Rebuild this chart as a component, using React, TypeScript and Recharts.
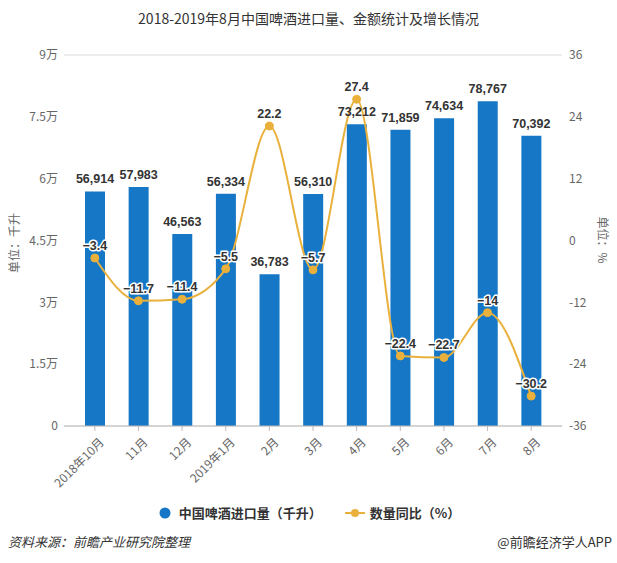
import React from "react";
import {
  ComposedChart,
  Bar,
  Line,
  XAxis,
  YAxis,
  CartesianGrid,
  LabelList,
  Legend,
} from "recharts";

const categories = ["2018年10月", "11月", "12月", "2019年1月", "2月", "3月", "4月", "5月", "6月", "7月", "8月"];
const importVolume = [56914, 57983, 46563, 56334, 36783, 56310, 73212, 71859, 74634, 78767, 70392];
const yoyGrowth = [-3.4, -11.7, -11.4, -5.5, 22.2, -5.7, 27.4, -22.4, -22.7, -14, -30.2];
const leftTicks = [0, 15000, 30000, 45000, 60000, 75000, 90000];
const rightTicks = [-36, -24, -12, 0, 12, 24, 36];

const title = "2018-2019年8月中国啤酒进口量、金额统计及增长情况";
const barName = "中国啤酒进口量（千升）";
const lineName = "数量同比（%）";
const leftUnit = "单位：千升";
const rightUnit = "单位：%";
const sourceText = "资料来源：前瞻产业研究院整理";
const brandText = "@前瞻经济学人APP";

const data = categories.map((c, i) => ({
  name: c,
  volume: importVolume[i],
  yoy: yoyGrowth[i],
}));

const BLUE = "#1677c6";
const GOLD = "#e9b13c";
const CJK = '"Microsoft YaHei", "Noto Sans CJK SC", sans-serif';
const NUM = '"Liberation Sans", Arial, sans-serif';

const fmtLeft = (v: number) => (v === 0 ? "0" : `${v / 10000}万`);
const fmtThousands = (v: number) => v.toLocaleString("en-US");

const BarLabel = (props: any) => {
  const { x, y, width, value } = props;
  return (
    <text
      x={x + width / 2}
      y={y - 8}
      textAnchor="middle"
      fontFamily={NUM}
      fontSize={12.5}
      fontWeight="bold"
      fill="#333"
    >
      {fmtThousands(value)}
    </text>
  );
};

const LineLabel = (props: any) => {
  const { x, y, value } = props;
  return (
    <text
      x={x}
      y={y - 8}
      textAnchor="middle"
      fontFamily={NUM}
      fontSize={12.5}
      fontWeight="bold"
      fill="#333"
      stroke="#fff"
      strokeWidth={3}
      paintOrder="stroke"
      strokeLinejoin="round"
    >
      {String(value).replace("-", "−")}
    </text>
  );
};

const XTick = (props: any) => {
  const { x, y, payload } = props;
  return (
    <g transform={`translate(${x + 4},${y + 4})`}>
      <text
        x={0}
        y={0}
        dy="0.71em"
        textAnchor="end"
        transform="rotate(-45)"
        fontFamily={CJK}
        fontSize={12}
        fill="#666"
      >
        {payload.value}
      </text>
    </g>
  );
};

const CustomLegend = () => (
  <div
    style={{
      display: "flex",
      justifyContent: "center",
      alignItems: "center",
      fontFamily: CJK,
      fontSize: 13,
      fontWeight: "bold",
      color: "#333",
      width: 617,
      paddingLeft: 2,
      boxSizing: "border-box",
    }}
  >
    <svg width={12} height={12} style={{ marginRight: 8 }}>
      <circle cx={6} cy={6} r={5.5} fill={BLUE} />
    </svg>
    <span>{barName}</span>
    <svg width={22} height={12} style={{ marginLeft: 22, marginRight: 4 }}>
      <line x1={1} y1={6} x2={21} y2={6} stroke={GOLD} strokeWidth={2} />
      <circle cx={11} cy={6} r={4} fill={GOLD} />
    </svg>
    <span>{lineName}</span>
  </div>
);

export default function App() {
  return (
    <div
      style={{
        position: "fixed",
        left: 0,
        top: 0,
        width: 617,
        height: 563,
        background: "#fff",
        overflow: "hidden",
      }}
    >
      <div
        style={{
          position: "absolute",
          top: 8,
          left: 0,
          width: 617,
          textAlign: "center",
          fontFamily: CJK,
          fontSize: 14,
          color: "#333",
        }}
      >
        {title}
      </div>
      <ComposedChart
        width={617}
        height={563}
        data={data}
        margin={{ top: 55, right: 8, left: 8, bottom: 58 }}
      >
        <CartesianGrid horizontal vertical={false} stroke="#dcdcdc" />
        <XAxis
          dataKey="name"
          interval={0}
          height={60}
          padding={{ left: 9, right: 9 }}
          axisLine={{ stroke: "#bbb" }}
          tickLine={{ stroke: "#bbb" }}
          tickSize={5}
          tick={<XTick />}
        />
        <YAxis
          yAxisId="left"
          orientation="left"
          width={56}
          domain={[0, 90000]}
          ticks={leftTicks}
          tickFormatter={fmtLeft}
          axisLine={false}
          tickLine={false}
          tickSize={4}
          tickMargin={2}
          tick={{ fill: "#666", fontSize: 12, fontFamily: CJK }}
          allowDataOverflow
        />
        <YAxis
          yAxisId="right"
          orientation="right"
          width={47}
          domain={[-36, 36]}
          ticks={rightTicks}
          axisLine={false}
          tickLine={false}
          tickSize={5}
          tickMargin={2}
          tick={{ fill: "#666", fontSize: 12, fontFamily: CJK }}
          allowDataOverflow
        />
        <Bar
          yAxisId="left"
          dataKey="volume"
          name={barName}
          fill={BLUE}
          barSize={20}
          isAnimationActive={false}
        >
          <LabelList dataKey="volume" content={<BarLabel />} />
        </Bar>
        <Line
          yAxisId="right"
          type="monotone"
          dataKey="yoy"
          name={lineName}
          stroke={GOLD}
          strokeWidth={2}
          dot={{ r: 4, fill: GOLD, stroke: GOLD, strokeWidth: 1 }}
          activeDot={false}
          isAnimationActive={false}
        >
          <LabelList dataKey="yoy" content={<LineLabel />} />
        </Line>
        <Legend
          content={<CustomLegend />}
          wrapperStyle={{ position: "absolute", top: 503, left: 0, width: 617 }}
        />
      </ComposedChart>
      <div
        style={{
          position: "absolute",
          left: 13,
          top: 243,
          transform: "translate(-50%, -50%) rotate(-90deg)",
          fontFamily: CJK,
          fontSize: 12,
          color: "#666",
          whiteSpace: "nowrap",
        }}
      >
        {leftUnit}
      </div>
      <div
        style={{
          position: "absolute",
          left: 603,
          top: 240,
          transform: "translate(-50%, -50%) rotate(90deg)",
          fontFamily: CJK,
          fontSize: 12,
          color: "#666",
          whiteSpace: "nowrap",
        }}
      >
        {rightUnit}
      </div>
      <div
        style={{
          position: "absolute",
          left: 8,
          top: 532,
          fontFamily: CJK,
          fontSize: 13,
          fontStyle: "italic",
          color: "#333",
        }}
      >
        {sourceText}
      </div>
      <div
        style={{
          position: "absolute",
          right: 5,
          top: 532,
          fontFamily: CJK,
          fontSize: 13,
          color: "#333",
        }}
      >
        {brandText}
      </div>
    </div>
  );
}
